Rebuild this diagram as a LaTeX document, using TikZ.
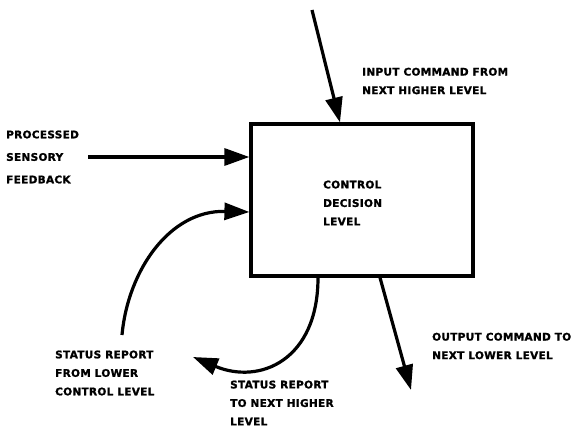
\documentclass[tikz,border=0pt]{standalone}
\usepackage{fontspec}
\newfontfamily\lblfont{DejaVu Sans}[UprightFont={* Bold}, LetterSpace=3, FakeBold=1.5]
\usetikzlibrary{arrows.meta}
\begin{document}
\begin{tikzpicture}[x=1pt,y=-1pt,
  tag/.style={font=\lblfont\fontsize{10.5}{#1}\selectfont,
              align=left, anchor=west, inner sep=0pt},
  tag/.default=18.5,
  flow/.style={line width=3.2pt, -{Triangle[length=25pt,width=17pt]}}]
  \useasboundingbox (0,0) rectangle (576,428);

  % decision box
  \node[draw, line width=3.2pt, minimum width=222pt, minimum height=152pt,
        inner sep=0pt] (box) at (362,200) {};
  \node[tag] (boxtxt) at (323,203) {CONTROL\\DECISION\\LEVEL};

  % free ends of the connectors
  \coordinate (inTop) at (312,10);
  \coordinate (inX) at (340,0);
  \coordinate (sensL) at (88,157);
  \coordinate (lowSrc) at (122,335);
  \coordinate (lowY) at (0,212);
  \coordinate (upX) at (318,0);
  \coordinate (upTip) at (193,357);
  \coordinate (outX) at (380,0);
  \coordinate (outTip) at (411,390);

  % input command from above
  \draw[flow] (inTop) -- (box.north -| inX);
  \node[tag] (intxt) at (362,81) {INPUT COMMAND FROM\\NEXT HIGHER LEVEL};

  % sensory feedback
  \draw[flow] (sensL) -- (box.west |- sensL);
  \node[tag=22.5] (senstxt) at (6,157) {PROCESSED\\SENSORY\\FEEDBACK};

  % status report coming up from the lower level
  \draw[flow] (lowSrc) .. controls (128,270) and (170,210) .. (box.west |- lowY);
  \node[tag] (lowtxt) at (55,373) {STATUS REPORT\\FROM LOWER\\CONTROL LEVEL};

  % status report sent to the higher level
  \draw[flow] (box.south -| upX) .. controls (318,360) and (260,385) .. (upTip);
  \node[tag] (uptxt) at (230,403) {STATUS REPORT\\TO NEXT HIGHER\\LEVEL};

  % output command to the lower level
  \draw[flow] (box.south -| outX) -- (outTip);
  \node[tag] (outtxt) at (432,346) {OUTPUT COMMAND TO\\NEXT LOWER LEVEL};
\end{tikzpicture}
\end{document}
